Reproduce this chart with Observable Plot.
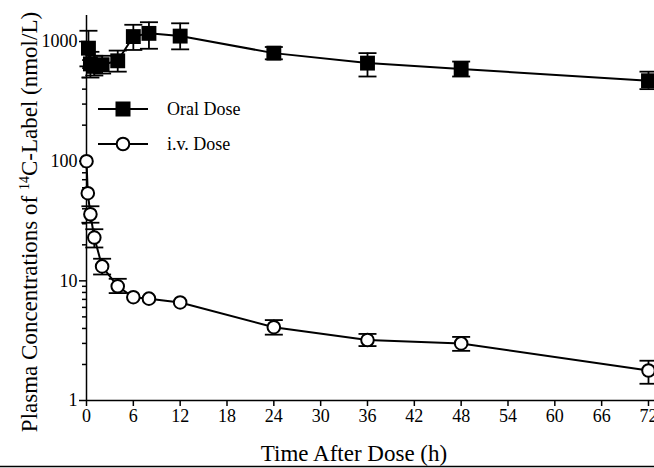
<!DOCTYPE html>
<html><head><meta charset="utf-8">
<script src="https://cdn.jsdelivr.net/npm/d3@7"></script>
<script src="https://cdn.jsdelivr.net/npm/@observablehq/plot@0.6"></script>
<style>body{margin:0;background:#fff;overflow:hidden}</style>
</head><body><div id="chart"></div>
<script>
// Oral dose (mean, lower and upper error bar), time in hours
const oralTime = [0.25, 0.5, 1, 2, 4, 6, 8, 12, 24, 36, 48, 72];
const oralMean = [880, 650, 620, 640, 690, 1100, 1170, 1110, 800, 660, 590, 470];
const oralLow  = [620, 500, 520, 540, 560, 850, 870, 860, 710, 510, 510, 400];
const oralHigh = [1230, 820, 760, 760, 840, 1380, 1450, 1420, 900, 800, 680, 560];
// i.v. dose
const ivTime = [0, 0.167, 0.5, 1, 2, 4, 6, 8, 12, 24, 36, 48, 72];
const ivMean = [100, 54, 36, 23, 13.2, 9, 7.3, 7.1, 6.6, 4.1, 3.2, 3.0, 1.78];
const ivLow  = [null, null, 30.6, 19, 11.3, 7.9, null, null, null, 3.55, 2.85, 2.6, 1.38];
const ivHigh = [null, null, 42, 27, 15.3, 10.4, null, null, null, 4.7, 3.6, 3.4, 2.15];
// axis ticks
const xTicks = [0, 6, 12, 18, 24, 30, 36, 42, 48, 54, 60, 66, 72];
const yMajor = [1, 10, 100, 1000];
const yMinor = [2,3,4,5,6,7,8,9, 20,30,40,50,60,70,80,90, 200,300,400,500,600,700,800,900];

const oral = oralTime.map((t, i) => ({t, v: oralMean[i], lo: oralLow[i], hi: oralHigh[i]}));
const iv = ivTime.map((t, i) => ({t, v: ivMean[i], lo: ivLow[i], hi: ivHigh[i]}));
const ivErr = iv.filter(d => d.lo != null);

const cap = {draw(ctx) { ctx.moveTo(-9, 0); ctx.lineTo(9, 0); }};
const font = "'Liberation Serif', 'Times New Roman', serif";

const chart = Plot.plot({
  width: 654, height: 468,
  marginLeft: 86, marginRight: 0, marginTop: 15, marginBottom: 68,
  style: {fontFamily: font, fontSize: "18px", background: "white", color: "black", overflow: "visible"},
  x: {domain: [0, 72.77]},
  y: {type: "log", domain: [1, 1650]},
  marks: [
    Plot.axisX(xTicks, {tickSize: 6, tickPadding: 3, strokeWidth: 1.5, label: null, tickFormat: d => String(d)}),
    Plot.axisY(yMajor, {tickSize: 7, tickPadding: 2, strokeWidth: 1.5, label: null, tickFormat: d => String(d)}),
    Plot.axisY(yMinor, {tickSize: 4, strokeWidth: 1.5, label: null, tickFormat: () => ""}),
    Plot.ruleY([1], {strokeWidth: 1.5}),
    Plot.ruleX([0], {strokeWidth: 1.5}),
    // error bars
    Plot.ruleX(oral, {x: "t", y1: "lo", y2: "hi", stroke: "black", strokeWidth: 1.8}),
    Plot.dot(oral, {x: "t", y: "lo", symbol: cap, fill: "none", stroke: "black", strokeWidth: 1.8}),
    Plot.dot(oral, {x: "t", y: "hi", symbol: cap, fill: "none", stroke: "black", strokeWidth: 1.8}),
    Plot.ruleX(ivErr, {x: "t", y1: "lo", y2: "hi", stroke: "black", strokeWidth: 1.8}),
    Plot.dot(ivErr, {x: "t", y: "lo", symbol: cap, fill: "none", stroke: "black", strokeWidth: 1.8}),
    Plot.dot(ivErr, {x: "t", y: "hi", symbol: cap, fill: "none", stroke: "black", strokeWidth: 1.8}),
    // lines
    Plot.line(oral, {x: "t", y: "v", stroke: "black", strokeWidth: 2}),
    Plot.line(iv, {x: "t", y: "v", stroke: "black", strokeWidth: 2}),
    // markers
    Plot.dot(oral, {x: "t", y: "v", symbol: "square", r: 8.4, fill: "black", stroke: "none"}),
    Plot.dot(iv, {x: "t", y: "v", r: 6.3, fill: "white", stroke: "black", strokeWidth: 2})
  ]
});
document.getElementById("chart").appendChild(chart);

const svg = d3.select(chart);
// axis titles
const yl = svg.append("text")
  .attr("transform", "translate(37,222) rotate(-90)")
  .attr("text-anchor", "middle").attr("font-family", font).attr("font-size", 23).attr("fill", "black");
yl.append("tspan").text("Plasma Concentrations of ");
yl.append("tspan").attr("font-size", 14).attr("dy", -8).text("14");
yl.append("tspan").attr("dy", 8).text("C-Label (nmol/L)");

svg.append("text").attr("x", 354).attr("y", 461)
  .attr("text-anchor", "middle").attr("font-family", font).attr("font-size", 23).attr("fill", "black")
  .text("Time After Dose (h)");

// bottom border line
svg.append("line").attr("x1", 0).attr("x2", 654).attr("y1", 466.5).attr("y2", 466.5)
  .attr("stroke", "black").attr("stroke-width", 1.5);

// legend
const lg = svg.append("g").attr("font-family", font).attr("font-size", 18).attr("text-anchor", "start");
const rows = [{label: "Oral Dose", y: 109, kind: "square"}, {label: "i.v. Dose", y: 144, kind: "circle"}];
rows.forEach(r => {
  lg.append("line").attr("x1", 98).attr("x2", 148).attr("y1", r.y).attr("y2", r.y)
    .attr("stroke", "black").attr("stroke-width", 2);
  if (r.kind === "square") {
    lg.append("rect").attr("x", 123 - 7.5).attr("y", r.y - 7.5).attr("width", 15).attr("height", 15).attr("fill", "black");
  } else {
    lg.append("circle").attr("cx", 123).attr("cy", r.y).attr("r", 6.3)
      .attr("fill", "white").attr("stroke", "black").attr("stroke-width", 2);
  }
  lg.append("text").attr("x", 167).attr("y", r.y + 6).attr("text-anchor", "start").attr("fill", "black").text(r.label);
});
</script>
</body></html>
